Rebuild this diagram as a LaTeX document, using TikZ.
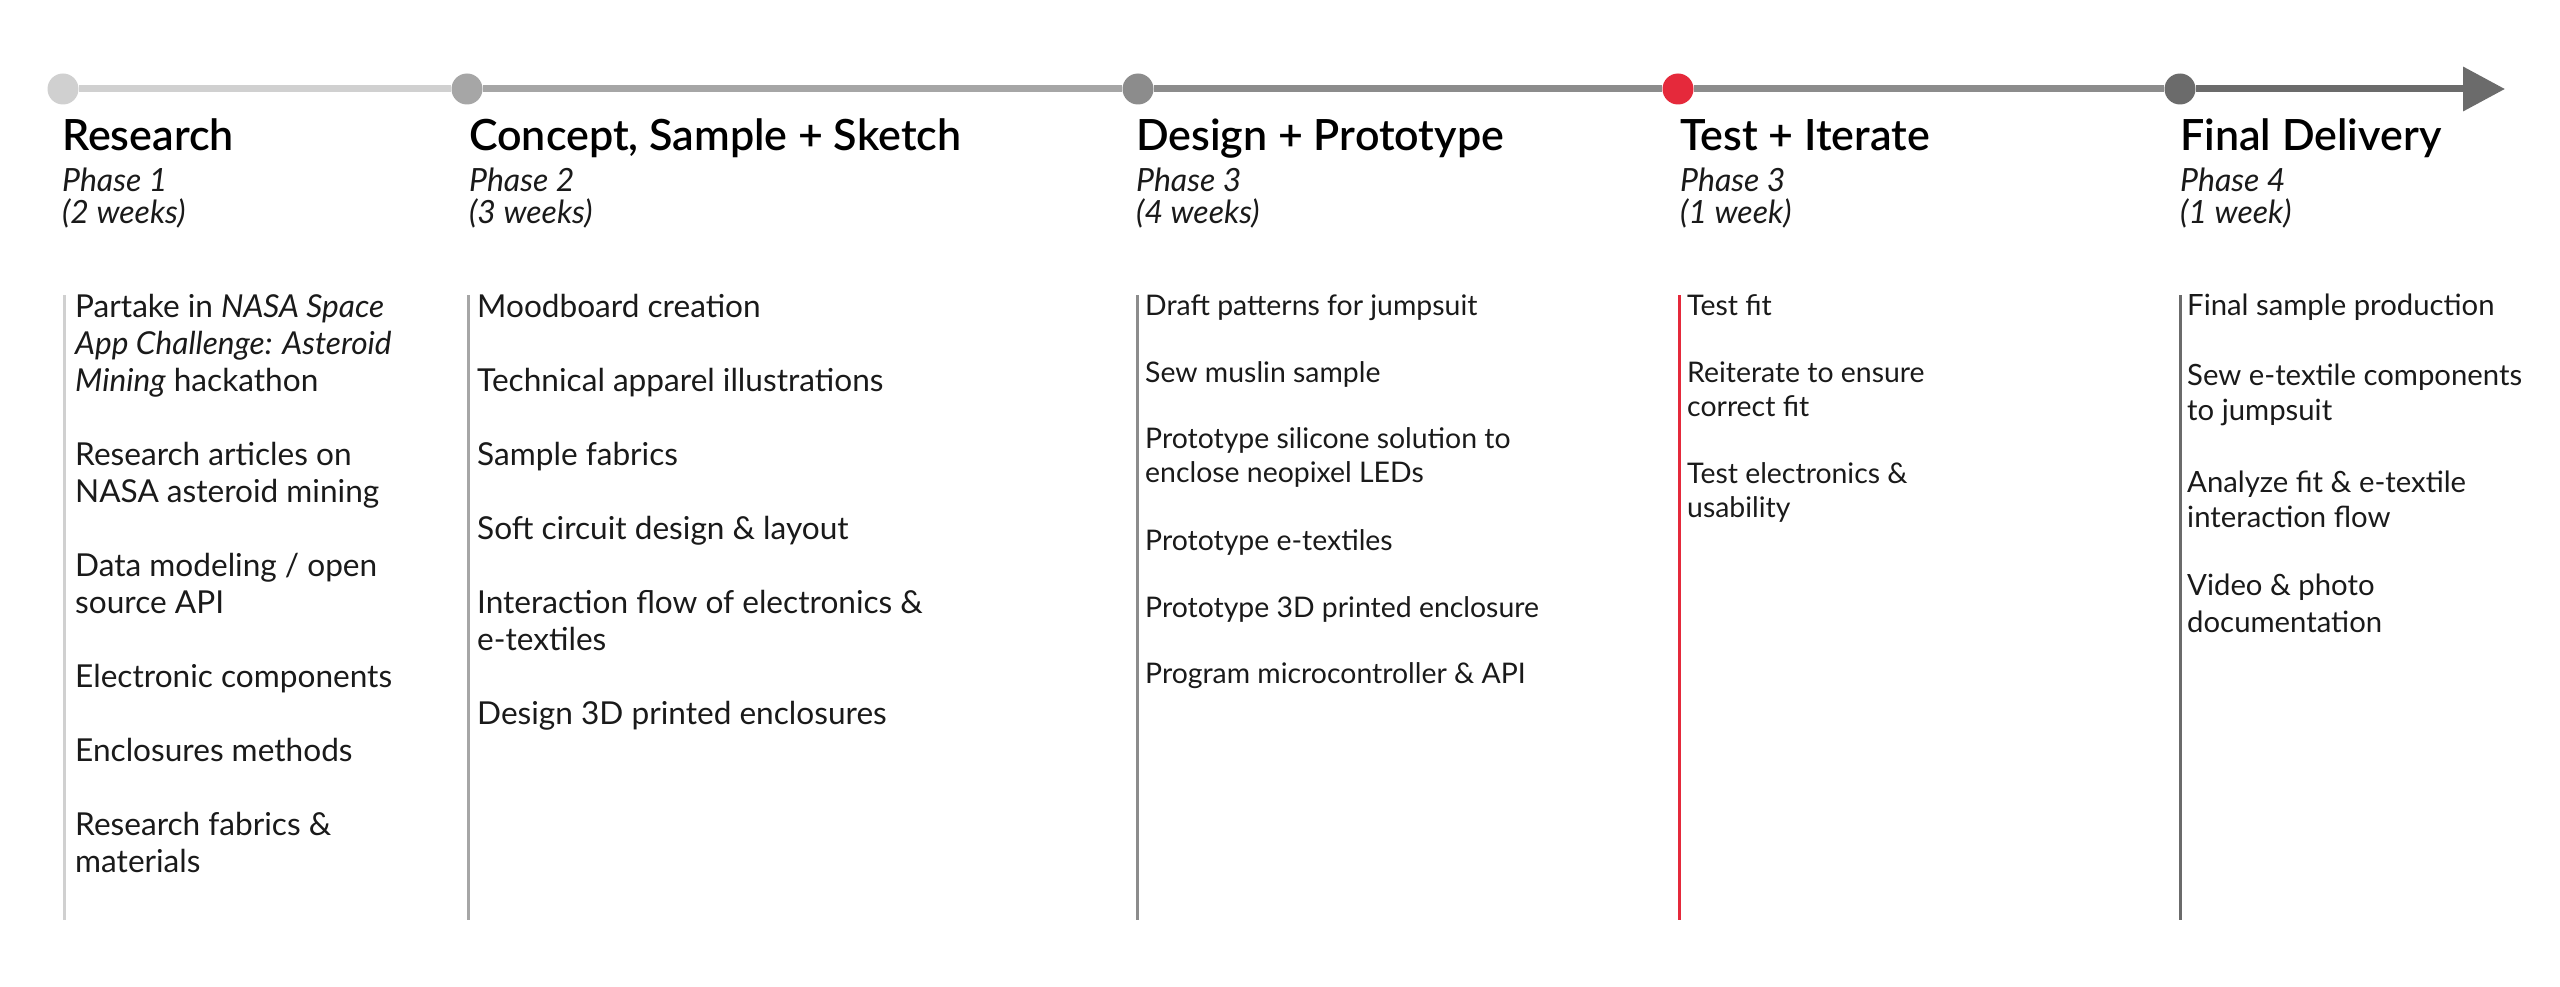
\documentclass[tikz,border=0pt]{standalone}
\usepackage{fontspec}
\setmainfont{Lato}
\IfFontExistsTF{Lato Semibold}{\newfontfamily\semif{Lato Semibold}}{\newcommand\semif{\bfseries}}
\usetikzlibrary{arrows.meta}
\definecolor{cA}{HTML}{D0D0D0}
\definecolor{cB}{HTML}{A6A6A6}
\definecolor{cC}{HTML}{8C8C8C}
\definecolor{cR}{HTML}{E5293B}
\definecolor{cE}{HTML}{6B6B6B}
\definecolor{txt}{HTML}{1A1A1A}
\begin{document}
\begin{tikzpicture}[x=1pt,y=-1pt,
  dot/.style={circle,inner sep=0pt,minimum size=31pt},
  seg/.style={line width=7pt},
  bar/.style={line width=3pt},
  hd/.style={anchor=base west,inner sep=0pt,font=\fontsize{43}{48}\selectfont\semif,text=black},
  ph/.style={anchor=base west,inner sep=0pt,font=\fontsize{32}{36}\selectfont\itshape,text=txt},
  tA/.style={anchor=base west,inner sep=0pt,font=\fontsize{31.6}{36}\selectfont,text=txt},
  tB/.style={anchor=base west,inner sep=0pt,font=\fontsize{28.4}{32}\selectfont,text=txt},
  tC/.style={anchor=base west,inner sep=0pt,font=\fontsize{29.3}{32}\selectfont,text=txt}]
\useasboundingbox[fill=white] (0,0) rectangle (2560,987);

% timeline dots
\node[dot,fill=cA] (d1) at (63,89) {};
\node[dot,fill=cB] (d2) at (467,89) {};
\node[dot,fill=cC] (d3) at (1138,89) {};
\node[dot,fill=cR] (d4) at (1678,89) {};
\node[dot,fill=cE] (d5) at (2180,89) {};
\coordinate (tip) at (2505,89);
\draw[seg,cA] (d1) -- (d2);
\draw[seg,cB] (d2) -- (d3);
\draw[seg,cC] (d3) -- (d4);
\draw[seg,cC] (d4) -- (d5);
\draw[seg,cE,-{Triangle[length=42pt,width=43pt]}] (d5) -- (tip);

% vertical bars
\draw[bar,cA] (64,295) -- (64,920);
\draw[bar,cB] (468,295) -- (468,920);
\draw[bar,cC] (1137,295) -- (1137,920);
\draw[bar,cR] (1679,295) -- (1679,920);
\draw[bar,cE] (2180,295) -- (2180,920);

% headings
\node[hd] (h1) at (62,151) {Research};
\node[ph] (p1) at (62,192) {Phase 1};
\node[ph] (w1) at (62,224) {(2 weeks)};
\node[hd] (h2) at (469,151) {Concept, Sample + Sketch};
\node[ph] (p2) at (469,192) {Phase 2};
\node[ph] (w2) at (469,224) {(3 weeks)};
\node[hd] (h3) at (1136,151) {Design + Prototype};
\node[ph] (p3) at (1136,192) {Phase 3};
\node[ph] (w3) at (1136,224) {(4 weeks)};
\node[hd] (h4) at (1680,151) {Test + Iterate};
\node[ph] (p4) at (1680,192) {Phase 3};
\node[ph] (w4) at (1680,224) {(1 week)};
\node[hd] (h5) at (2180,151) {Final Delivery};
\node[ph] (p5) at (2180,192) {Phase 4};
\node[ph] (w5) at (2180,224) {(1 week)};

% column 1
\node[tA] (a1) at (75,317) {Partake in \textit{NASA Space}};
\node[tA] (a2) at (75,354) {\textit{App Challenge: Asteroid}};
\node[tA] (a3) at (75,391) {\textit{Mining} hackathon};
\node[tA] (a4) at (75,465) {Research articles on};
\node[tA] (a5) at (75,502) {NASA asteroid mining};
\node[tA] (a6) at (75,576) {Data modeling / open};
\node[tA] (a7) at (75,613) {source API};
\node[tA] (a8) at (75,687) {Electronic components};
\node[tA] (a9) at (75,761) {Enclosures methods};
\node[tA] (a10) at (75,835) {Research fabrics \&};
\node[tA] (a11) at (75,872) {materials};

% column 2
\node[tA] (b1) at (477,317) {Moodboard creation};
\node[tA] (b2) at (477,391) {Technical apparel illustrations};
\node[tA] (b3) at (477,465) {Sample fabrics};
\node[tA] (b4) at (477,539) {Soft circuit design \& layout};
\node[tA] (b5) at (477,613) {Interaction flow of electronics \&};
\node[tA] (b6) at (477,650) {e-textiles};
\node[tA] (b7) at (477,724) {Design 3D printed enclosures};

% column 3
\node[tB] (c1) at (1145,315) {Draft patterns for jumpsuit};
\node[tB] (c2) at (1145,382) {Sew muslin sample};
\node[tB] (c3) at (1145,448) {Prototype silicone solution to};
\node[tB] (c4) at (1145,482) {enclose neopixel LEDs};
\node[tB] (c5) at (1145,550) {Prototype e-textiles};
\node[tB] (c6) at (1145,617) {Prototype 3D printed enclosure};
\node[tB] (c7) at (1145,683) {Program microcontroller \& API};

% column 4
\node[tB] (e1) at (1687,315) {Test fit};
\node[tB] (e2) at (1687,382) {Reiterate to ensure};
\node[tB] (e3) at (1687,416) {correct fit};
\node[tB] (e4) at (1687,483) {Test electronics \&};
\node[tB] (e5) at (1687,517) {usability};

% column 5
\node[tC] (f1) at (2187,315) {Final sample production};
\node[tC] (f2) at (2187,385) {Sew e-textile components};
\node[tC] (f3) at (2187,420) {to jumpsuit};
\node[tC] (f4) at (2187,492) {Analyze fit \& e-textile};
\node[tC] (f5) at (2187,527) {interaction flow};
\node[tC] (f6) at (2187,595) {Video \& photo};
\node[tC] (f7) at (2187,632) {documentation};
\end{tikzpicture}
\end{document}
